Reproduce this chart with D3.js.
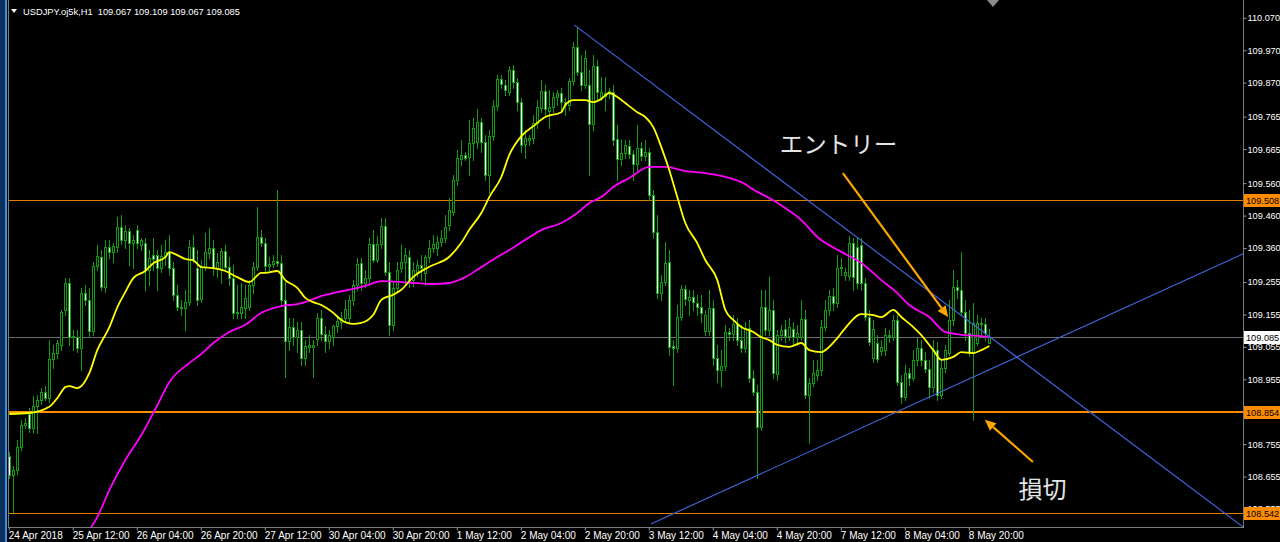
<!DOCTYPE html>
<html><head><meta charset="utf-8">
<script src="https://cdn.jsdelivr.net/npm/d3@7"></script>
<style>html,body{margin:0;padding:0;background:#000;overflow:hidden}</style>
</head><body><svg id="c" width="1280" height="542"></svg>
<script>
// ---------- DATA ----------
const symbolTitle = "USDJPY.oj5k,H1  109.067 109.109 109.067 109.085";
const barOpen = [
108.718,108.660,108.675,108.746,108.814,108.848,108.804,108.872,108.891,108.916,
108.897,109.018,109.037,109.062,109.169,109.252,109.088,109.085,109.052,109.221,
109.200,109.104,109.304,109.332,109.239,109.363,109.348,109.363,109.424,109.385,
109.412,109.376,109.415,109.370,109.376,109.292,109.339,109.339,109.298,109.335,
109.348,109.298,109.215,109.178,109.175,109.194,109.363,109.298,109.203,109.301,
109.345,109.360,109.298,109.292,109.351,109.301,109.267,109.163,109.160,109.175,
109.178,109.246,109.301,109.393,109.376,109.304,109.311,109.320,109.314,109.200,
109.074,109.116,109.085,109.107,109.021,109.055,109.055,109.079,109.144,109.095,
109.074,109.085,109.119,109.132,109.144,109.144,109.200,109.246,109.314,109.252,
109.267,109.373,109.323,109.373,109.427,109.286,109.123,109.236,109.298,109.317,
109.332,109.261,109.286,109.308,109.283,109.332,109.360,109.360,109.379,109.390,
109.431,109.471,109.570,109.634,109.646,109.640,109.684,109.687,109.749,109.687,
109.585,109.705,109.797,109.881,109.863,109.841,109.909,109.872,109.810,109.681,
109.693,109.699,109.746,109.791,109.844,109.783,109.794,109.825,109.838,109.810,
109.801,109.875,109.980,109.903,109.863,109.863,109.742,109.921,109.826,109.829,
109.838,109.841,109.696,109.634,109.653,109.675,109.650,109.619,109.668,109.643,
109.655,109.523,109.409,109.221,109.255,109.317,109.058,109.052,109.147,109.233,
109.200,109.209,109.191,109.178,109.104,109.104,109.175,109.021,108.984,108.996,
109.101,109.095,109.126,109.077,109.052,109.113,108.959,108.916,108.808,109.178,
109.107,109.169,108.971,109.092,109.110,109.088,109.110,109.085,109.085,109.141,
108.907,108.944,108.968,108.984,109.116,109.169,109.212,109.191,109.298,109.277,
109.274,109.376,109.363,109.370,109.252,109.147,109.021,109.068,109.043,109.046,
109.088,109.085,109.138,108.947,108.900,108.974,108.959,109.015,109.052,109.015,
108.987,108.931,109.046,108.907,108.990,109.037,109.138,109.239,109.230,109.163,
109.098,109.037,109.068,109.129,109.126,109.067];
const barHigh = [
108.731,108.687,108.768,108.829,108.835,108.866,108.903,108.907,108.928,108.934,
109.077,109.062,109.077,109.169,109.267,109.267,109.107,109.107,109.236,109.246,
109.236,109.317,109.370,109.354,109.385,109.385,109.376,109.455,109.462,109.431,
109.421,109.400,109.431,109.390,109.390,109.354,109.390,109.354,109.370,109.385,
109.400,109.317,109.246,109.200,109.230,109.385,109.400,109.354,109.323,109.406,
109.421,109.385,109.345,109.360,109.370,109.332,109.308,109.246,109.252,109.246,
109.261,109.317,109.486,109.415,109.390,109.332,109.339,109.538,109.339,109.261,
109.144,109.144,109.132,109.132,109.077,109.092,109.077,109.160,109.169,109.120,
109.107,109.123,109.144,109.163,109.200,109.215,109.261,109.329,109.329,109.292,
109.390,109.415,109.396,109.452,109.452,109.317,109.255,109.317,109.370,109.360,
109.354,109.317,109.323,109.339,109.339,109.385,109.400,109.396,109.415,109.462,
109.513,109.585,109.662,109.693,109.655,109.755,109.761,109.789,109.761,109.708,
109.724,109.816,109.894,109.894,109.878,109.921,109.925,109.884,109.823,109.724,
109.708,109.770,109.816,109.878,109.863,109.847,109.841,109.847,109.853,109.823,
109.884,109.996,110.041,109.955,109.971,109.909,109.955,109.940,109.888,109.888,
109.853,109.863,109.739,109.693,109.693,109.693,109.662,109.739,109.687,109.693,
109.668,109.539,109.462,109.277,109.379,109.354,109.077,109.185,109.246,109.246,
109.230,109.230,109.215,109.215,109.169,109.230,109.200,109.062,109.046,109.123,
109.113,109.154,109.144,109.123,109.132,109.138,108.984,108.938,109.230,109.230,
109.270,109.200,109.107,109.123,109.138,109.144,109.132,109.123,109.200,109.169,
108.959,109.015,109.015,109.138,109.200,109.230,109.236,109.339,109.329,109.298,
109.396,109.390,109.390,109.390,109.267,109.169,109.138,109.092,109.077,109.113,
109.107,109.154,109.154,108.968,109.000,108.990,109.046,109.082,109.077,109.040,
109.015,109.077,109.071,109.015,109.062,109.200,109.292,109.261,109.348,109.200,
109.169,109.191,109.154,109.144,109.144,109.109];
const barLow = [
108.650,108.546,108.663,108.737,108.804,108.792,108.792,108.789,108.879,108.891,
108.885,108.990,109.021,109.046,109.154,109.062,109.046,109.040,108.984,109.185,
109.085,109.092,109.292,109.230,109.224,109.329,109.317,109.348,109.373,109.360,
109.308,109.298,109.360,109.354,109.230,109.246,109.292,109.230,109.286,109.308,
109.277,109.200,109.169,109.154,109.107,109.185,109.317,109.185,109.194,109.292,
109.329,109.277,109.270,109.252,109.292,109.246,109.144,109.144,109.144,109.144,
109.169,109.221,109.292,109.366,109.286,109.292,109.301,109.304,109.185,108.962,
109.046,109.062,109.040,109.000,109.000,109.040,108.962,109.062,109.077,109.040,
109.052,109.062,109.101,109.113,109.132,109.132,109.185,109.230,109.230,109.239,
109.255,109.317,109.317,109.360,109.277,109.092,109.107,109.224,109.286,109.246,
109.239,109.243,109.274,109.261,109.246,109.317,109.348,109.339,109.366,109.379,
109.415,109.462,109.554,109.616,109.631,109.585,109.631,109.668,109.655,109.570,
109.529,109.693,109.786,109.853,109.832,109.832,109.853,109.786,109.655,109.637,
109.678,109.684,109.729,109.779,109.770,109.729,109.779,109.801,109.786,109.770,
109.786,109.863,109.894,109.847,109.853,109.585,109.724,109.816,109.816,109.786,
109.823,109.678,109.570,109.616,109.637,109.637,109.570,109.601,109.631,109.631,
109.508,109.390,109.205,109.200,109.246,109.031,108.938,109.040,109.138,109.185,
109.154,109.169,109.154,109.132,109.092,109.092,109.000,108.947,108.934,108.984,
109.077,109.077,109.062,109.040,109.040,108.947,108.907,108.650,108.799,109.092,
109.092,108.959,108.953,109.077,109.071,109.077,109.062,109.062,109.077,108.897,
108.758,108.934,108.953,108.968,109.107,109.154,109.169,109.178,109.277,109.261,
109.261,109.230,109.236,109.230,109.138,109.062,109.008,109.008,109.031,109.031,
109.071,109.077,108.938,108.882,108.891,108.938,108.953,109.000,109.000,108.978,
108.897,108.916,108.891,108.897,108.978,109.031,109.123,109.205,109.154,109.077,
109.027,108.829,109.062,109.092,109.077,109.067];
const barClose = [
108.660,108.675,108.746,108.814,108.820,108.804,108.872,108.891,108.916,108.897,
109.018,109.037,109.068,109.163,109.252,109.085,109.085,109.052,109.221,109.200,
109.104,109.304,109.335,109.239,109.363,109.348,109.366,109.424,109.385,109.412,
109.376,109.385,109.376,109.385,109.292,109.329,109.326,109.298,109.335,109.348,
109.298,109.215,109.178,109.175,109.194,109.363,109.323,109.200,109.301,109.348,
109.360,109.298,109.317,109.351,109.301,109.267,109.160,109.160,109.178,109.205,
109.246,109.301,109.393,109.376,109.304,109.311,109.320,109.314,109.200,109.074,
109.116,109.085,109.107,109.021,109.058,109.062,109.062,109.144,109.095,109.074,
109.092,109.119,109.135,109.144,109.172,109.200,109.246,109.311,109.252,109.267,
109.373,109.323,109.373,109.427,109.286,109.123,109.236,109.292,109.317,109.339,
109.261,109.292,109.308,109.298,109.332,109.360,109.373,109.379,109.390,109.424,
109.477,109.570,109.637,109.646,109.637,109.684,109.729,109.749,109.687,109.585,
109.705,109.797,109.881,109.866,109.847,109.909,109.872,109.810,109.678,109.699,
109.699,109.746,109.794,109.844,109.789,109.794,109.825,109.838,109.810,109.801,
109.875,109.980,109.903,109.863,109.946,109.742,109.921,109.841,109.841,109.838,
109.844,109.693,109.634,109.653,109.678,109.650,109.619,109.668,109.643,109.655,
109.523,109.409,109.221,109.255,109.314,109.055,109.052,109.147,109.233,109.203,
109.209,109.194,109.178,109.160,109.154,109.175,109.021,108.984,108.996,109.101,
109.095,109.126,109.077,109.052,109.113,108.959,108.916,108.808,109.178,109.107,
109.169,108.974,109.092,109.107,109.088,109.116,109.085,109.098,109.141,108.907,
108.944,108.974,108.984,109.116,109.169,109.212,109.191,109.298,109.301,109.286,
109.376,109.270,109.252,109.252,109.147,109.071,109.110,109.018,109.055,109.092,
109.092,109.138,108.947,108.900,108.974,108.959,109.015,109.052,109.015,108.987,
108.931,109.046,108.907,108.990,109.046,109.138,109.239,109.230,109.163,109.098,
109.037,109.129,109.129,109.126,109.098,109.085];

// moving averages: [bar index, price]
const maFast = [[0,108.848],[5,108.851],[10,108.870],[12,108.897],[14,108.931],[15,108.934],[17,108.928],[20,108.974],[22,109.045],[25,109.115],[27,109.177],[29,109.224],[31,109.267],[34,109.289],[36,109.313],[39,109.332],[40,109.347],[42,109.338],[44,109.326],[46,109.322],[48,109.301],[51,109.298],[54,109.289],[57,109.270],[60,109.255],[63,109.283],[64,109.283],[67,109.289],[69,109.261],[72,109.237],[74,109.206],[76,109.193],[78,109.184],[81,109.160],[83,109.138],[86,109.126],[88,109.129],[91,109.154],[93,109.200],[96,109.216],[98,109.231],[101,109.271],[105,109.302],[110,109.333],[113,109.376],[115,109.416],[118,109.468],[120,109.517],[123,109.579],[125,109.647],[128,109.705],[131,109.736],[134,109.764],[138,109.779],[139,109.801],[141,109.816],[144,109.816],[146,109.810],[148,109.820],[150,109.838],[152,109.826],[154,109.807],[157,109.779],[159,109.764],[161,109.733],[163,109.671],[165,109.600],[167,109.517],[169,109.437],[172,109.375],[174,109.323],[177,109.261],[179,109.169],[181,109.138],[183,109.116],[186,109.101],[188,109.085],[190,109.076],[192,109.061],[195,109.055],[198,109.067],[200,109.045],[203,109.039],[204,109.045],[207,109.082],[209,109.113],[213,109.156],[216,109.153],[218,109.147],[221,109.169],[223,109.147],[226,109.116],[228,109.091],[231,109.045],[233,109.015],[236,109.024],[238,109.039],[241,109.036],[243,109.045],[245,109.058]];
const maSlow = [[20,108.490],[22,108.530],[25,108.613],[29,108.706],[33,108.783],[37,108.875],[40,108.946],[45,109.005],[48,109.033],[51,109.067],[55,109.101],[59,109.123],[63,109.160],[68,109.181],[72,109.187],[74,109.193],[78,109.212],[82,109.224],[86,109.234],[89,109.243],[93,109.258],[98,109.255],[101,109.252],[106,109.249],[110,109.252],[114,109.270],[118,109.301],[122,109.332],[125,109.354],[129,109.385],[133,109.415],[138,109.437],[142,109.468],[145,109.499],[148,109.517],[151,109.548],[155,109.576],[160,109.610],[164,109.610],[169,109.597],[174,109.591],[179,109.579],[183,109.563],[187,109.533],[190,109.514],[194,109.483],[198,109.446],[202,109.394],[208,109.348],[213,109.314],[218,109.261],[222,109.221],[225,109.184],[230,109.147],[234,109.101],[239,109.091],[243,109.088],[245,109.085]];

const timeLabels = ["24 Apr 2018","25 Apr 12:00","26 Apr 04:00","26 Apr 20:00","27 Apr 12:00","30 Apr 04:00","30 Apr 20:00","1 May 12:00","2 May 04:00","2 May 20:00","3 May 12:00","4 May 04:00","4 May 20:00","7 May 12:00","8 May 04:00","8 May 20:00"];
const barsPerLabel = 16;
const priceTicks = [110.070,109.970,109.870,109.765,109.665,109.560,109.460,109.360,109.255,109.155,109.055,108.955,108.855,108.755,108.655,108.555];
const levelPrices = [109.508, 108.854, 108.542];
const currentPrice = 109.085;
const trendLines = [[[141.2,110.048],[308.5,108.499]], [[160.4,108.509],[308.5,109.342]]];
const arrowLines = [[[208.4,109.591],[234.7,109.147]], [[255.9,108.700],[243.9,108.830]]];
const notes = [{text:"エントリー", bar:192.6, price:109.652, size:23.5}, {text:"損切", bar:252.3, price:108.589, size:24}];

// ---------- LAYOUT ----------
const svg = d3.select("#c");
const W = 1280, H = 542;
const plotL = 8, plotR = 1243, plotB = 527;
const x = d3.scaleLinear().domain([0, 1]).range([9.3, 13.3]);
const y = d3.scaleLinear().domain([108.542, 110.070]).range([513.2, 17.8]);
const GREEN = "#129c12", ORANGE = "#ff8c00";

svg.append("rect").attr("width", W).attr("height", H).attr("fill", "#000");
svg.append("rect").attr("x",0).attr("y",0).attr("width",5).attr("height",H).attr("fill","#0c2f5c");
svg.append("rect").attr("x",5).attr("y",0).attr("width",2).attr("height",H).attr("fill","#3a8de0");

svg.append("clipPath").attr("id","clip").append("rect")
  .attr("x",plotL+1).attr("y",0).attr("width",plotR-plotL-1).attr("height",plotB);
const plot = svg.append("g").attr("clip-path","url(#clip)");
const snap = v => Math.round(v) + 0.5;

// horizontal levels
levelPrices.forEach((p,i) => {
  const yy = i===1 ? Math.round(y(p)) : snap(y(p));
  plot.append("line").attr("x1",plotL).attr("x2",plotR).attr("y1",yy).attr("y2",yy)
    .attr("stroke", i===1 ? "#ff8c00" : "#e08000").attr("stroke-width", i===1 ? 2 : 1);
});
plot.append("line").attr("x1",plotL).attr("x2",plotR)
  .attr("y1",snap(y(currentPrice))).attr("y2",snap(y(currentPrice)))
  .attr("stroke","#6e6e6e").attr("stroke-width",1);

// candles
const bars = d3.range(barOpen.length).map(i => ({i, o:barOpen[i], h:barHigh[i], l:barLow[i], c:barClose[i]}));
const cg = plot.append("g").attr("shape-rendering","crispEdges");
bars.forEach(d => {
  const cx = Math.round(x(d.i));
  cg.append("line").attr("x1",cx+0.5).attr("x2",cx+0.5)
    .attr("y1",Math.round(y(d.h))).attr("y2",Math.round(y(d.l))+1)
    .attr("stroke",GREEN).attr("stroke-width",1);
  const top = Math.round(y(Math.max(d.o,d.c))), bot = Math.round(y(Math.min(d.o,d.c)));
  const bull = d.c >= d.o;
  cg.append("rect").attr("x",cx-0.5).attr("y",top+0.5)
    .attr("width",2).attr("height",Math.max(0,bot-top))
    .attr("fill", bull ? "#000" : "#f2fff2").attr("stroke",GREEN).attr("stroke-width",1);
});

// moving averages
const line = d3.line().x(d => x(d[0])).y(d => y(d[1])).curve(d3.curveMonotoneX);
plot.append("path").datum(maSlow).attr("d",line).attr("fill","none").attr("stroke","#ff00ff").attr("stroke-width",1.8);
plot.append("path").datum(maFast).attr("d",line).attr("fill","none").attr("stroke","#ffff00").attr("stroke-width",1.8);

// trend lines
trendLines.forEach(t => {
  plot.append("line").attr("x1",x(t[0][0])).attr("y1",y(t[0][1]))
    .attr("x2",x(t[1][0])).attr("y2",y(t[1][1]))
    .attr("stroke","#4169e1").attr("stroke-width",1.1);
});

// arrows
arrowLines.forEach(a => {
  const x1 = x(a[0][0]), y1 = y(a[0][1]), x2 = x(a[1][0]), y2 = y(a[1][1]);
  const ang = Math.atan2(y2-y1, x2-x1), L = 11, Wd = 5;
  const bx = x2 - L*Math.cos(ang), by = y2 - L*Math.sin(ang);
  svg.append("line").attr("x1",x1).attr("y1",y1).attr("x2",bx).attr("y2",by)
    .attr("stroke","#ffa500").attr("stroke-width",2.2);
  const px = -Math.sin(ang)*Wd, py = Math.cos(ang)*Wd;
  svg.append("path").attr("d",`M${x2},${y2}L${bx+px},${by+py}L${bx-px},${by-py}Z`).attr("fill","#ffa500");
});

// notes
notes.forEach(n => {
  svg.append("text").attr("x",x(n.bar)).attr("y",y(n.price)).text(n.text)
    .attr("fill","#e4e4e4").attr("font-family","'Noto Sans CJK JP'").attr("font-size",n.size);
});

// frame lines
svg.append("line").attr("x1",plotL+0.5).attr("x2",plotL+0.5).attr("y1",0).attr("y2",plotB).attr("stroke","#7a7a7a");
svg.append("line").attr("x1",plotR+0.5).attr("x2",plotR+0.5).attr("y1",0).attr("y2",plotB+0.5).attr("stroke","#7a7a7a");
svg.append("line").attr("x1",plotL).attr("x2",plotR+1).attr("y1",plotB+0.5).attr("y2",plotB+0.5).attr("stroke","#7a7a7a");

// price axis
const yAxis = d3.axisRight(y).tickValues(priceTicks).tickFormat(d3.format(".3f")).tickSize(3).tickPadding(1);
const ya = svg.append("g").attr("transform",`translate(${plotR+0.5},0)`).call(yAxis);
ya.select(".domain").remove();
ya.selectAll("line").attr("stroke","#9a9a9a");
ya.selectAll("text").attr("fill","#fff").attr("font-family","'Liberation Sans'").attr("font-size",9.2);

// price labels
const boxes = levelPrices.map(p => ({p, bg:ORANGE})).concat([{p:currentPrice, bg:"#fff"}]);
boxes.forEach(b => {
  const yy = Math.round(y(b.p));
  svg.append("rect").attr("x",plotR+1).attr("y",yy-6).attr("width",40).attr("height",13).attr("fill",b.bg);
  svg.append("text").attr("x",plotR+3).attr("y",yy+4).text(d3.format(".3f")(b.p))
    .attr("fill","#000").attr("font-family","'Liberation Sans'").attr("font-size",9.2);
});

// time axis
const tickBars = timeLabels.map((_,k) => k*barsPerLabel);
const xAxis = d3.axisBottom(x).tickValues(tickBars).tickFormat((d,k) => timeLabels[k]).tickSize(3).tickPadding(1);
const xa = svg.append("g").attr("transform",`translate(0,${plotB+0.5})`).call(xAxis);
xa.select(".domain").remove();
xa.selectAll("line").attr("stroke","#9a9a9a").attr("transform","translate(-0.5,0)");
xa.selectAll("text").attr("fill","#fff").attr("font-family","'Liberation Sans'").attr("font-size",10)
  .attr("text-anchor","start").attr("dx",-1);

// title
svg.append("path").attr("d","M11,9L17,9L14,13Z").attr("fill","#fff");
svg.append("text").attr("x",23).attr("y",15).text(symbolTitle)
  .attr("fill","#fff").attr("font-family","'Liberation Sans'").attr("font-size",9.3).style("white-space","pre");
// chart-shift marker
svg.append("path").attr("d","M987,0L999,0L993,7Z").attr("fill","#8a8a8a");
</script></body></html>
